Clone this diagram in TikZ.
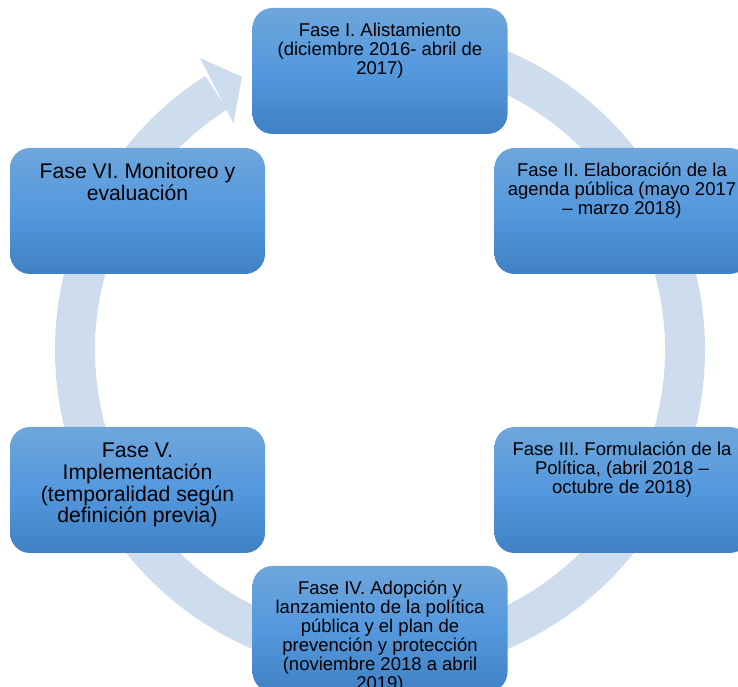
\documentclass[tikz,border=0pt]{standalone}
\usepackage{fontspec}
\setmainfont{Liberation Sans}
\definecolor{ringc}{RGB}{205,221,238}
\definecolor{boxtop}{RGB}{110,166,220}
\definecolor{boxmid}{RGB}{84,152,221}
\definecolor{boxbot}{RGB}{64,129,196}
\begin{document}
\begin{tikzpicture}[x=1pt,y=1pt,
  phase/.style={rectangle, rounded corners=20pt, minimum width=255pt, minimum height=126pt,
    inner sep=0pt, top color=boxtop, bottom color=boxbot, middle color=boxmid, draw=none},
  ptext/.style={anchor=north, align=center, inner sep=0pt, text=black},
  smalltxt/.style={font=\fontsize{18.5}{19.1}\selectfont},
  bigtxt/.style={font=\fontsize{21.2}{21.9}\selectfont}]
\useasboundingbox (0,0) rectangle (738,687);
\clip (0,0) rectangle (738,687);
\coordinate (c) at (380,337);
% cycle ring with arrow head
\draw[ringc, line width=40pt] ([shift={(90:305)}]c) arc[start angle=90, end angle=-237.5, radius=305];
\fill[ringc] ([shift={(121.65:343)}]c) -- ([shift={(116.8:306)}]c) -- ([shift={(122.9:270)}]c) -- cycle;
% phases
\node[phase] (p1) at (380,616) {};
\node[phase] (p2) at (622,476) {};
\node[phase] (p3) at (622,197) {};
\node[phase] (p4) at (380,58) {};
\node[phase] (p5) at (137.5,197) {};
\node[phase] (p6) at (137.5,476) {};
\node[ptext, smalltxt] (t1) at ([yshift=-13.3pt]p1.north) {\rule{0pt}{0.8em}Fase I. Alistamiento\\(diciembre 2016- abril de\\2017)};
\node[ptext, smalltxt] (t2) at ([yshift=-13.3pt]p2.north) {\rule{0pt}{0.8em}Fase II. Elaboración de la\\agenda pública (mayo 2017\\– marzo 2018)};
\node[ptext, smalltxt] (t3) at ([yshift=-13.3pt]p3.north) {\rule{0pt}{0.8em}Fase III. Formulación de la\\Política, (abril 2018 –\\octubre de 2018)};
\node[ptext, smalltxt] (t4) at ([yshift=-13.3pt]p4.north) {\rule{0pt}{0.8em}Fase IV. Adopción y\\lanzamiento de la política\\pública y el plan de\\prevención y protección\\(noviembre 2018 a abril\\2019)};
\node[ptext, bigtxt] (t5) at ([yshift=-13.3pt]p5.north) {\rule{0pt}{0.8em}Fase V.\\Implementación\\(temporalidad según\\definición previa)};
\node[ptext, bigtxt] (t6) at ([yshift=-13.3pt]p6.north) {\rule{0pt}{0.8em}Fase VI. Monitoreo y\\evaluación};
\end{tikzpicture}
\end{document}
